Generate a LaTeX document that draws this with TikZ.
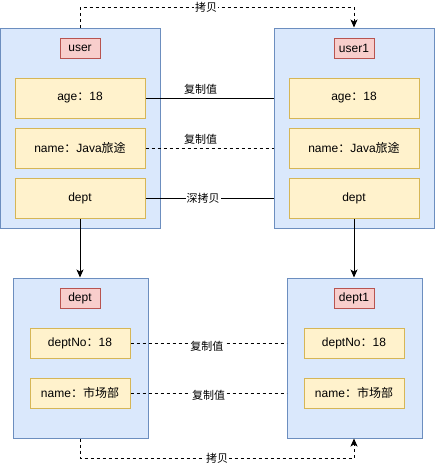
\documentclass[tikz,border=0pt]{standalone}
\usepackage{fontspec}
\setmainfont{Liberation Sans}
\newfontfamily\cjk{Noto Sans CJK SC}
\newcommand{\zh}[1]{{\cjk #1}}
\usetikzlibrary{arrows.meta}
\definecolor{bfill}{HTML}{DAE8FC}
\definecolor{bstroke}{HTML}{6C8EBF}
\definecolor{yfill}{HTML}{FFF2CC}
\definecolor{ystroke}{HTML}{D6B656}
\definecolor{rfill}{HTML}{F8CECC}
\definecolor{rstroke}{HTML}{B85450}
\begin{document}
\begin{tikzpicture}[x=1pt,y=-1pt,
  big/.style={draw=bstroke, fill=bfill, line width=1pt, inner sep=0pt},
  cell/.style={draw=ystroke, fill=yfill, line width=1pt, inner sep=0pt, font=\fontsize{12}{14}\selectfont},
  bigcell/.style={cell, minimum width=130pt, minimum height=40pt},
  smallcell/.style={cell, minimum width=100pt, minimum height=30pt},
  ttl/.style={draw=rstroke, fill=rfill, line width=1pt, minimum width=40pt, minimum height=20pt, inner sep=0pt, font=\fontsize{12}{14}\selectfont},
  lbl/.style={fill=white, inner sep=1pt, font=\fontsize{11}{13}\selectfont},
  conn/.style={line width=1pt, black},
  dsh/.style={conn, dash pattern=on 3pt off 3pt},
  arr/.style={-{Stealth[length=8pt,width=7pt,inset=2pt]}}]
\useasboundingbox (0,0) rectangle (435,467);
% top objects
\node[big, minimum width=160pt, minimum height=200pt] (u) at (80,128) {};
\node[ttl] (ut) at (80,48) {user};
\node[bigcell] (ua) at (80,98) {age\zh{：}18};
\node[bigcell] (un) at (80,148) {name\zh{：}Java\zh{旅途}};
\node[bigcell] (ud) at (80,198) {dept};
\node[big, minimum width=160pt, minimum height=200pt] (v) at (354,128) {};
\node[ttl] (vt) at (354,48) {user1};
\node[bigcell] (va) at (354,98) {age\zh{：}18};
\node[bigcell] (vn) at (354,148) {name\zh{：}Java\zh{旅途}};
\node[bigcell] (vd) at (354,198) {dept};
% bottom objects
\node[big, minimum width=135pt, minimum height=160pt] (d) at (80.5,358) {};
\node[ttl] (dt) at (80,298) {dept};
\node[smallcell] (dn) at (80,343) {deptNo\zh{：}18};
\node[smallcell] (dm) at (80,393) {name\zh{：市场部}};
\node[big, minimum width=135pt, minimum height=160pt] (e) at (354.5,358) {};
\node[ttl] (et) at (354,298) {dept1};
\node[smallcell] (en) at (354,343) {deptNo\zh{：}18};
\node[smallcell] (em) at (354,393) {name\zh{：市场部}};
% connectors
\coordinate (tl) at (80,7);
\coordinate (tr) at (354,7);
\draw[dsh, arr] (u.north) -- (tl) -- node[lbl, pos=0.46]{\zh{拷贝}} (tr) -- (v.north);
\draw[conn] (ua.east) -- node[lbl, above, pos=0.43, yshift=2pt]{\zh{复制值}} (ua.east -| v.west);
\draw[dsh] (un.east) -- node[lbl, above, pos=0.43, yshift=2pt]{\zh{复制值}} (un.east -| v.west);
\draw[conn] (ud.east) -- node[lbl, pos=0.45]{\zh{深拷贝}} (ud.east -| v.west);
\draw[conn, arr] (ud.south) -- (ud.south |- d.north);
\draw[conn, arr] (vd.south) -- (vd.south |- e.north);
\draw[dsh] (dn.east) -- node[lbl, pos=0.49, yshift=-3pt]{\zh{复制值}} (dn.east -| e.west);
\draw[dsh] (dm.east) -- node[lbl, pos=0.5, yshift=-2pt]{\zh{复制值}} (dm.east -| e.west);
\coordinate (bl) at (80,458);
\coordinate (br) at (354,458);
\draw[dsh, arr] (d.south -| bl) -- (bl) -- node[lbl, pos=0.5]{\zh{拷贝}} (br) -- (br |- e.south);
\end{tikzpicture}
\end{document}
